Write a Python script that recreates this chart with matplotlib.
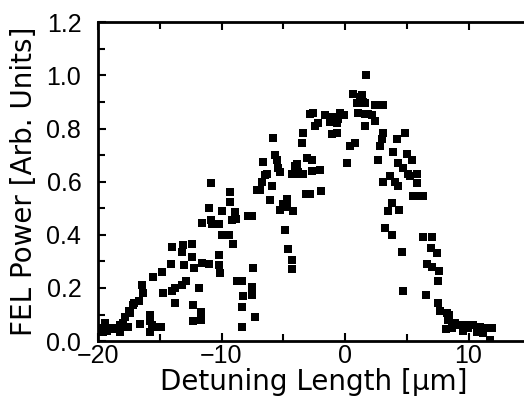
import numpy as np
import matplotlib
matplotlib.use("Agg")
import matplotlib.pyplot as plt
from matplotlib.ticker import MultipleLocator, FormatStrFormatter

# detuning length [um] and FEL power [arb. units]
detuning = [
    -19.84, -19.70, -19.57, -19.43, -19.30, -19.17, -18.90, -18.76, -18.62, -18.20,
    -18.20, -17.95, -17.81, -17.55, -17.47, -17.41, -17.14, -17.09, -16.68, -16.60,
    -16.41, -16.33, -15.79, -15.79, -15.79, -15.65, -15.57, -15.12, -14.92, -14.84,
    -14.71, -14.09, -14.03, -13.98, -13.77, -13.77, -13.20, -13.10, -13.00, -13.20,
    -12.90, -12.41, -12.36, -12.28, -12.28, -12.23, -11.82, -11.68, -11.66, -11.60,
    -11.60, -10.99, -11.00, -10.87, -10.79, -10.85, -10.20, -9.98, -9.98, -10.20,
    -10.18, -10.12, -9.37, -9.31, -9.31, -9.17, -8.91, -8.85, -9.09, -8.77,
    -8.36, -8.23, -8.36, -8.32, -7.83, -7.51, -7.55, -7.55, -7.43, -7.29,
    -7.15, -6.88, -6.74, -6.62, -6.48, -6.34, -6.07, -5.94, -5.85, -5.67,
    -5.53, -5.40, -5.26, -5.26, -5.00, -4.72, -4.86, -4.64, -4.32, -4.32,
    -4.32, -4.05, -4.23, -4.72, -3.91, -3.78, -4.05, -3.46, -3.38, -3.38,
    -3.10, -3.16, -2.83, -2.70, -2.83, -2.70, -2.57, -2.16, -2.43, -2.02,
    -1.97, -1.62, -1.08, -1.21, -1.08, -0.67, -0.67, -0.54, -0.40, -0.06,
    0.14, 0.40, 0.81, 0.67, 1.21, 0.95, 1.48, 1.08, 1.62, 1.62,
    1.70, 1.35, 1.62, 2.43, 3.10, 1.89, 2.16, 2.43, 3.10, 4.86,
    4.19, 2.97, 2.83, 2.70, 3.91, 5.00, 5.40, 4.32, 4.72, 5.13,
    5.81, 5.26, 5.81, 3.64, 3.10, 4.05, 4.32, 5.94, 5.53, 6.34,
    3.78, 3.51, 4.40, 3.24, 3.78, 6.34, 7.02, 6.94, 7.43, 4.59,
    6.62, 7.02, 7.64, 7.51, 4.67, 6.53, 7.55, 7.69, 8.23, 8.32,
    8.91, 8.18, 8.64, 9.31, 9.58, 9.85, 9.96, 10.39, 10.66, 10.93,
    11.20, 11.47, 11.88, 11.74, 8.42,
]
power = [
    0.040, 0.050, 0.035, 0.070, 0.040, 0.045, 0.050, 0.045, 0.050, 0.060,
    0.035, 0.070, 0.090, 0.055, 0.115, 0.105, 0.135, 0.145, 0.150, 0.065,
    0.210, 0.180, 0.100, 0.075, 0.035, 0.060, 0.240, 0.055, 0.055, 0.260,
    0.180, 0.290, 0.355, 0.190, 0.200, 0.145, 0.335, 0.360, 0.285, 0.210,
    0.225, 0.315, 0.365, 0.135, 0.075, 0.275, 0.200, 0.110, 0.080, 0.295,
    0.445, 0.290, 0.500, 0.455, 0.440, 0.595, 0.440, 0.490, 0.400, 0.325,
    0.285, 0.255, 0.400, 0.560, 0.525, 0.455, 0.485, 0.460, 0.365, 0.225,
    0.225, 0.170, 0.130, 0.055, 0.470, 0.470, 0.205, 0.175, 0.275, 0.090,
    0.570, 0.570, 0.600, 0.675, 0.625, 0.630, 0.530, 0.585, 0.765, 0.700,
    0.680, 0.650, 0.635, 0.495, 0.515, 0.535, 0.420, 0.345, 0.305, 0.270,
    0.630, 0.660, 0.490, 0.505, 0.665, 0.635, 0.630, 0.745, 0.785, 0.630,
    0.690, 0.555, 0.555, 0.680, 0.855, 0.640, 0.860, 0.820, 0.810, 0.645,
    0.565, 0.850, 0.845, 0.825, 0.780, 0.820, 0.785, 0.835, 0.860, 0.850,
    0.670, 0.735, 0.745, 0.930, 0.920, 0.895, 0.900, 0.860, 0.855, 0.810,
    1.000, 0.925, 0.895, 0.890, 0.890, 0.855, 0.850, 0.830, 0.785, 0.785,
    0.760, 0.760, 0.735, 0.680, 0.710, 0.705, 0.680, 0.670, 0.650, 0.630,
    0.630, 0.620, 0.595, 0.620, 0.600, 0.600, 0.585, 0.545, 0.545, 0.545,
    0.520, 0.490, 0.495, 0.425, 0.400, 0.390, 0.390, 0.350, 0.330, 0.335,
    0.290, 0.280, 0.265, 0.225, 0.190, 0.175, 0.145, 0.115, 0.105, 0.080,
    0.070, 0.045, 0.050, 0.060, 0.040, 0.060, 0.050, 0.060, 0.035, 0.055,
    0.030, 0.050, 0.050, 0.005, 0.100,
]

plt.rcParams['font.family'] = ['DejaVu Sans']

fig = plt.figure(figsize=(5.24, 4.12), dpi=100)
ax = fig.add_axes([0.187, 0.172, 0.825, 0.774])

ax.plot(detuning, power, 's', color='black', markersize=6.0, markeredgewidth=0)

ax.set_xlim(-20, 15)
ax.set_ylim(0, 1.2)
ax.xaxis.set_major_locator(MultipleLocator(10))
ax.xaxis.set_minor_locator(MultipleLocator(5))
ax.yaxis.set_major_locator(MultipleLocator(0.2))
ax.yaxis.set_minor_locator(MultipleLocator(0.1))
ax.yaxis.set_major_formatter(FormatStrFormatter('%.1f'))

for s in ax.spines.values():
    s.set_linewidth(2)
ax.tick_params(which='both', direction='in', top=True, right=False,
               width=1.5, labelsize=18)
ax.tick_params(axis='x', pad=2)
ax.tick_params(axis='y', pad=12)
ax.tick_params(which='major', length=6)
ax.tick_params(which='minor', length=5)
# tick numbers in a narrower face, closer to the original
for lab in ax.get_xticklabels() + ax.get_yticklabels():
    lab.set_family('Liberation Sans')

ax.set_xlabel('Detuning Length [μm]', fontsize=20, labelpad=0)
ax.set_ylabel('FEL Power [Arb. Units]', fontsize=20, labelpad=6)

fig.savefig('out.png', dpi=100)
